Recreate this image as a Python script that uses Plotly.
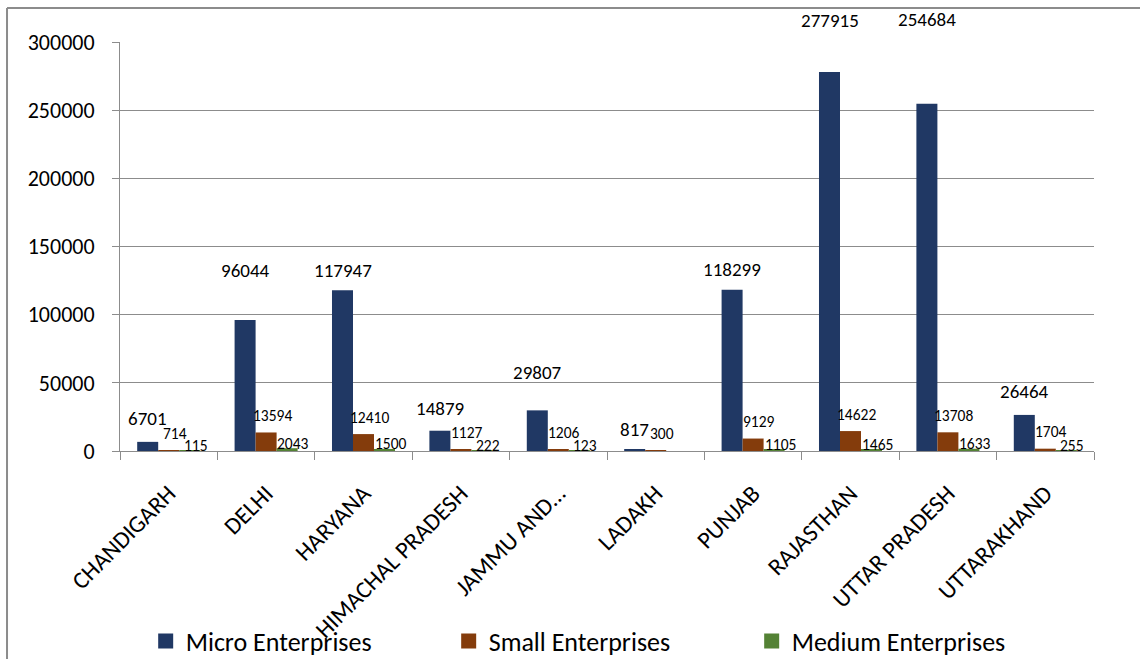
import plotly.graph_objects as go

states = ["CHANDIGARH", "DELHI", "HARYANA", "HIMACHAL PRADESH", "JAMMU AND…",
          "LADAKH", "PUNJAB", "RAJASTHAN", "UTTAR PRADESH", "UTTARAKHAND"]
micro = [6701, 96044, 117947, 14879, 29807, 817, 118299, 277915, 254684, 26464]
small = [714, 13594, 12410, 1127, 1206, 300, 9129, 14622, 13708, 1704]
medium = [115, 2043, 1500, 222, 123, None, 1105, 1465, 1633, 255]

# label lift above bar top (px), the original labels were hand placed
micro_lift = [23, 50, 20, 22, 38, 20, 20, 52, 84, 23]

FONT = "Carlito, Lato, sans-serif"
series = [
    ("Micro Enterprises", micro, "#203864"),
    ("Small Enterprises", small, "#843c0c"),
    ("Medium Enterprises", medium, "#548235"),
]

fig = go.Figure()
for name, vals, col in series:
    fig.add_trace(go.Bar(
        x=states, y=vals, name=name, showlegend=False,
        marker=dict(color=col, line=dict(width=0)),
    ))
# legend entries with bigger square swatches
for name, vals, col in series:
    fig.add_trace(go.Scatter(
        x=[None], y=[None], name=name, mode="markers",
        marker=dict(symbol="square", size=15, color=col),
    ))

annos = []
for i, s in enumerate(states):
    annos.append(dict(x=s, y=micro[i], text=str(micro[i]), showarrow=False,
                      xshift=-21, yshift=micro_lift[i], yanchor="middle",
                      font=dict(size=19, color="black", family=FONT)))
    annos.append(dict(x=s, y=small[i], text=str(small[i]), showarrow=False,
                      xshift=6, yshift=17, yanchor="middle",
                      font=dict(size=15.5, color="black", family=FONT)))
    if medium[i] is not None:
        annos.append(dict(x=s, y=medium[i], text=str(medium[i]), showarrow=False,
                          xshift=27, yshift=5, yanchor="middle",
                          font=dict(size=15.5, color="black", family=FONT)))

# outer chart frame
frame = dict(color="#8c8c8c", width=2)
shapes = [
    dict(type="line", xref="paper", yref="paper", x0=-0.116, x1=1.1,
         y0=1.083, y1=1.083, line=frame),
    dict(type="line", xref="paper", yref="paper", x0=-0.116, x1=-0.116,
         y0=1.083, y1=-0.7, line=frame),
]

fig.update_layout(
    width=1140, height=659,
    margin=dict(l=120, r=46, t=42, b=208),
    paper_bgcolor="white", plot_bgcolor="white",
    barmode="group", bargap=0.353, bargroupgap=0,
    font=dict(family=FONT, color="black"),
    annotations=annos, shapes=shapes,
    legend=dict(orientation="h", x=0.493, xanchor="center",
                yref="container", y=0.027, yanchor="middle",
                bgcolor="rgba(0,0,0,0)",
                font=dict(size=26, family=FONT),
                entrywidth=258, itemwidth=30, itemsizing="trace"),
    showlegend=True,
)
fig.update_xaxes(
    type="category", tickangle=-45, tickson="boundaries",
    ticks="outside", ticklen=8, tickcolor="#8c8c8c",
    showline=True, linecolor="#8c8c8c", linewidth=1,
    showgrid=False, tickfont=dict(size=24, family=FONT),
    ticklabelstandoff=18, automargin=False,
)
fig.update_yaxes(
    range=[0, 300000], tickvals=[0, 50000, 100000, 150000, 200000, 250000, 300000],
    tickformat="d", ticks="outside", ticklen=7, tickcolor="#8c8c8c",
    showline=True, linecolor="#8c8c8c", linewidth=1,
    showgrid=True, gridcolor="#8c8c8c", gridwidth=1,
    zeroline=False, tickfont=dict(size=22, family=FONT),
    ticklabelstandoff=13, automargin=False,
)

fig.write_html("out.html", config={"displayModeBar": False},
               post_script="document.body.style.margin='0';")
